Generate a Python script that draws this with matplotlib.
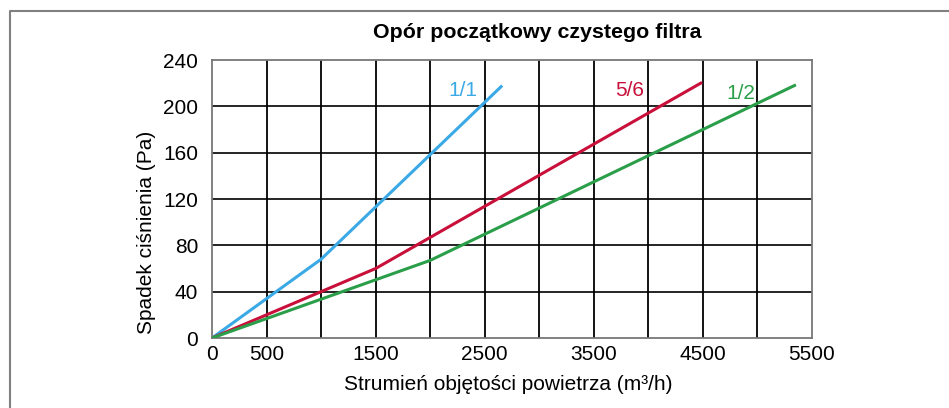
import matplotlib.pyplot as plt
from matplotlib.lines import Line2D

plt.rcParams['font.family'] = ['Liberation Sans', 'DejaVu Sans']

# dane
flow_11 = [0, 1000, 2650]
dp_11 = [0, 68, 217]
flow_56 = [0, 1500, 4480]
dp_56 = [0, 60, 220]
flow_12 = [0, 2000, 5340]
dp_12 = [0, 67, 218]

xticks = [0, 500, 1500, 2500, 3500, 4500, 5500]
yticks = [0, 40, 80, 120, 160, 200, 240]
xgrid = [500, 1000, 1500, 2000, 2500, 3000, 3500, 4000, 4500, 5000]

c_blue = '#3aa9e6'
c_red = '#c8103a'
c_green = '#2b9e4a'

W, H = 949, 408
fig = plt.figure(figsize=(W / 100, H / 100), dpi=100)
ax = fig.add_axes([212 / W, 1 - 338 / H, 600 / W, 278 / H])

for x in xgrid:
    ax.axvline(x, color='black', lw=1.3, zorder=1)
for y in yticks[1:-1]:
    ax.axhline(y, color='black', lw=1.2, zorder=1)

ax.plot(flow_11, dp_11, color=c_blue, lw=2.2, zorder=3)
ax.plot(flow_56, dp_56, color=c_red, lw=2.2, zorder=3)
ax.plot(flow_12, dp_12, color=c_green, lw=2.2, zorder=3)

ax.text(2300, 214, '1/1', color=c_blue, fontsize=15, ha='center', va='center')
ax.text(3825, 214, '5/6', color=c_red, fontsize=15, ha='center', va='center')
ax.text(4850, 211, '1/2', color=c_green, fontsize=15, ha='center', va='center')

ax.set_xlim(0, 5500)
ax.set_ylim(0, 240)
ax.set_xticks(xticks)
ax.set_yticks(yticks)
ax.tick_params(length=0, labelsize=15)
ax.tick_params(axis='y', pad=10)
ax.tick_params(axis='x', pad=5)
for s in ax.spines.values():
    s.set_color('#777777')
    s.set_linewidth(1.3)

fig.text(537 / W, 1 - 32 / H, 'Opór początkowy czystego filtra', fontsize=15.4,
         fontweight='bold', ha='center', va='center')
fig.text(508 / W, 1 - 385 / H, 'Strumień objętości powietrza (m³/h)', fontsize=15,
         ha='center', va='center')
fig.text(147 / W, 1 - 232 / H, 'Spadek ciśnienia (Pa)', fontsize=15,
         rotation=90, ha='center', va='center')

# ramka
fig.add_artist(Line2D([10 / W, 10 / W, 1], [0, 1 - 11 / H, 1 - 11 / H],
                      transform=fig.transFigure, color='#808080', lw=1.5))

fig.savefig('out.png', dpi=100)
